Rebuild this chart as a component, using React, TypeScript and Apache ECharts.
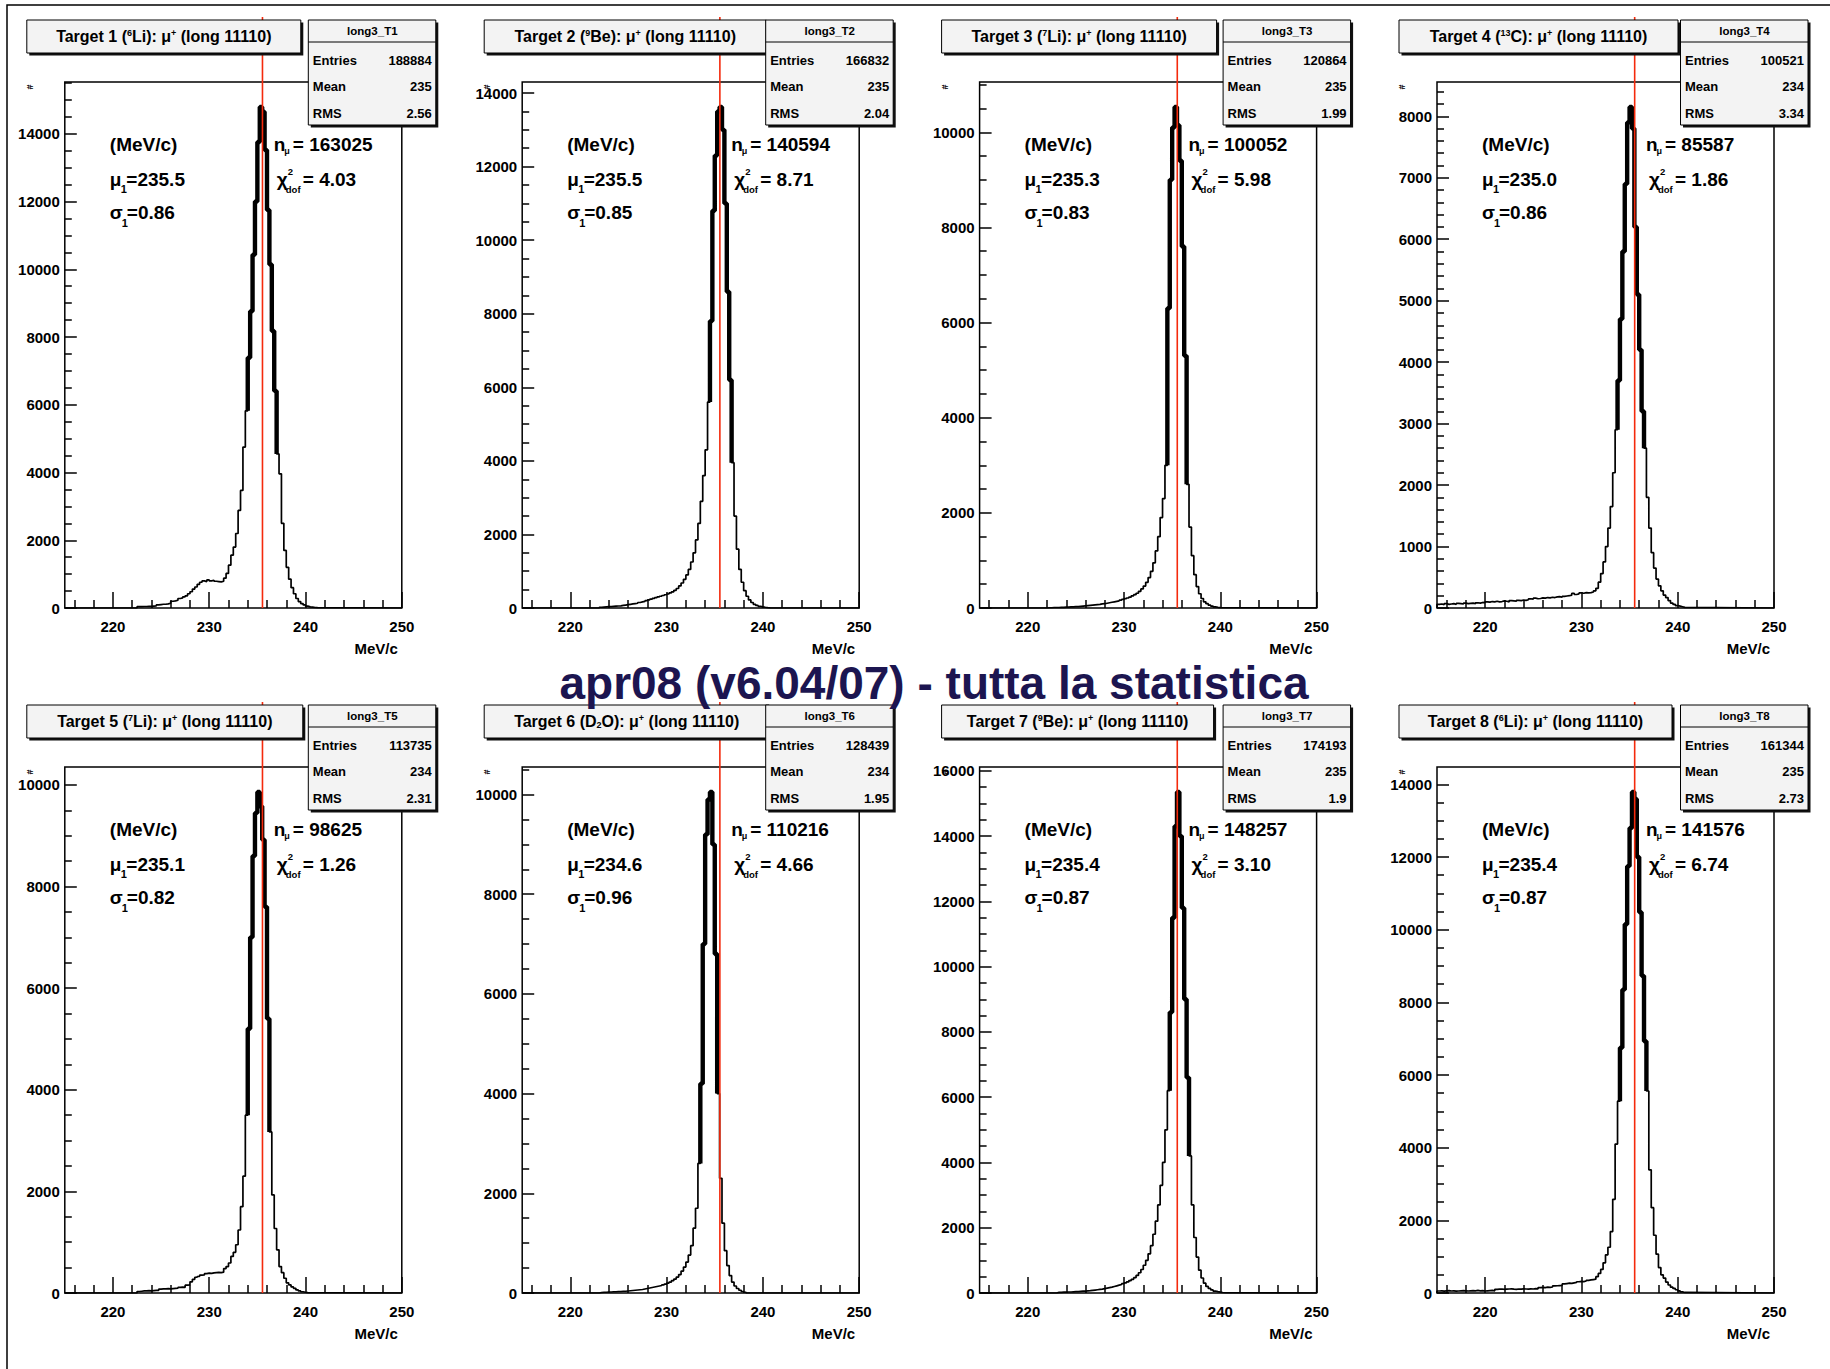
import React, { useEffect, useRef } from "react";
import * as echarts from "echarts";

const FONT = "Liberation Sans, Arial, Helvetica, sans-serif";
const X_MIN = 215;
const X_MAX = 250;
const BIN = 0.25;
const RED_X = 235.53;

const xMajorTicks = [220, 230, 240, 250];
const xMinorTicks = [216, 218, 222, 224, 226, 228, 232, 234, 236, 238, 242, 244, 246, 248];

const titleRich = [
  "{t|Target 1 (}{sup|6}{t|Li): μ}{sup|+}{t| (long 11110)}",
  "{t|Target 2 (}{sup|9}{t|Be): μ}{sup|+}{t| (long 11110)}",
  "{t|Target 3 (}{sup|7}{t|Li): μ}{sup|+}{t| (long 11110)}",
  "{t|Target 4 (}{sup|13}{t|C): μ}{sup|+}{t| (long 11110)}",
  "{t|Target 5 (}{sup|7}{t|Li): μ}{sup|+}{t| (long 11110)}",
  "{t|Target 6 (D}{sub|2}{t|O): μ}{sup|+}{t| (long 11110)}",
  "{t|Target 7 (}{sup|9}{t|Be): μ}{sup|+}{t| (long 11110)}",
  "{t|Target 8 (}{sup|6}{t|Li): μ}{sup|+}{t| (long 11110)}",
];
const histName = ["long3_T1", "long3_T2", "long3_T3", "long3_T4", "long3_T5", "long3_T6", "long3_T7", "long3_T8"];
const entries = ["188884", "166832", "120864", "100521", "113735", "128439", "174193", "161344"];
const means = ["235", "235", "235", "234", "234", "234", "235", "235"];
const rmsVals = ["2.56", "2.04", "1.99", "3.34", "2.31", "1.95", "1.9", "2.73"];
const fitMu = ["235.5", "235.5", "235.3", "235.0", "235.1", "234.6", "235.4", "235.4"];
const fitSigma = ["0.86", "0.85", "0.83", "0.86", "0.82", "0.96", "0.87", "0.87"];
const fitN = ["163025", "140594", "100052", "85587", "98625", "110216", "148257", "141576"];
const fitChi2 = ["4.03", "8.71", "5.98", "1.86", "1.26", "4.66", "3.10", "6.74"];

const yTicks = [
  [0, 2000, 4000, 6000, 8000, 10000, 12000, 14000],
  [0, 2000, 4000, 6000, 8000, 10000, 12000, 14000],
  [0, 2000, 4000, 6000, 8000, 10000],
  [0, 1000, 2000, 3000, 4000, 5000, 6000, 7000, 8000],
  [0, 2000, 4000, 6000, 8000, 10000],
  [0, 2000, 4000, 6000, 8000, 10000],
  [0, 2000, 4000, 6000, 8000, 10000, 12000, 14000, 16000],
  [0, 2000, 4000, 6000, 8000, 10000, 12000, 14000],
];
const yMinorStep = [500, 500, 500, 200, 500, 500, 500, 500];

// first bin lower edge of each histogram (MeV/c), bins of 0.25 MeV/c
const binStart = [222.5, 223.0, 222.0, 215.0, 222.5, 223.0, 223.0, 215.0];

const hist1 = [
  40, 40, 45, 45, 50, 50, 55, 60,
  90, 100, 110, 110, 120, 140,
  200, 210, 230, 280, 300, 330, 360, 420,
  480, 560, 620, 700, 760, 800, 780, 830,
  800, 820, 790, 780, 770, 790, 880, 1020,
  1265, 1560, 1800, 2200, 2880, 3470, 4750, 5820,
  7390, 8760, 10430, 12000, 13760, 14790, 14650, 13520,
  11750, 10140, 8180, 6410, 4550, 3960, 2500, 1700,
  1200, 850, 600, 420, 280, 190, 130, 90,
  55, 35, 25, 15, 10,
];
const hist2 = [
  20, 25, 30, 35, 40, 45, 50, 55,
  60, 70, 80, 90, 100, 110, 120, 130,
  150, 165, 180, 200, 220, 240, 260, 280,
  300, 320, 340, 360, 380, 410, 440, 480,
  530, 600, 680, 780, 900, 1050, 1250, 1500,
  1850, 2300, 2900, 3600, 4300, 5600, 7800, 10800,
  12300, 13500, 13620, 13000, 11000, 8600, 6200, 3950,
  2500, 1600, 1050, 700, 470, 320, 220, 150,
  100, 70, 45, 30, 20, 12, 6,
];
const hist3 = [
  5, 5, 10, 10, 10, 15, 15, 20,
  20, 25, 25, 30, 30, 35, 40, 45,
  50, 55, 60, 65, 70, 75, 85, 90,
  100, 110, 120, 130, 140, 150, 165, 180,
  195, 210, 230, 255, 280, 310, 350, 400,
  460, 540, 640, 770, 950, 1200, 1500, 1900,
  2300, 3000, 6300, 9000, 10100, 10530, 10150, 9400,
  7600, 5300, 2600, 1700, 1100, 700, 450, 300,
  200, 130, 90, 60, 40, 25, 15, 8,
];
const hist4 = [
  60, 65, 55, 70, 60, 65, 70, 60, 75, 70, 65, 80, 70, 75, 80, 70, 85, 80, 90, 85,
  100, 95, 105, 100, 110, 100, 105, 115, 110, 100, 120, 115, 110, 125, 120, 130, 125, 135,
  150, 145, 160, 150, 155, 165, 160, 170, 165, 175, 170, 180, 185, 175, 190, 195,
  200, 210, 240, 220, 230, 245, 240, 250, 245, 250, 260, 280,
  320, 420, 560, 750, 1000, 1300, 1650, 2200, 2900, 3700, 4700, 5800, 6900, 7900, 8150, 7800,
  6200, 5100, 4200, 3200, 2600, 1800, 1300, 900, 650, 470, 360, 280, 210, 170, 120, 80,
  60, 40, 30, 20, 10,
];
const hist5 = [
  30, 35, 40, 40, 45, 40, 45, 50, 50,
  75, 80, 80, 85, 80, 85, 90, 95,
  110, 115, 112,
  155, 160,
  220, 270, 310, 325, 350, 355, 380, 390,
  385, 395, 400, 405, 400, 410, 480, 520,
  590, 720, 800, 950, 1240, 1700, 2300, 3500,
  5200, 7000, 8600, 9450, 9860, 9580, 8920, 7600,
  5400, 3170, 1930, 1270, 850, 520, 400, 290,
  200, 158, 120, 92, 60, 40, 25, 15, 8,
];
const hist6 = [
  10, 15, 15, 20, 20, 25, 25, 30,
  30, 35, 35, 40, 45, 50, 55, 60,
  65, 70, 80, 90, 100, 110, 120, 130,
  140, 150, 165, 180, 200, 220, 250, 280,
  320, 370, 440, 520, 620, 760, 950, 1300,
  1700, 2600, 4200, 7000, 9200, 9900, 10050, 9000,
  6800, 4000, 2300, 1400, 850, 550, 350, 220,
  140, 90, 55, 30, 15,
];
const hist7 = [
  20, 20, 25, 25, 30, 30, 35, 40,
  45, 50, 55, 60, 65, 70, 80, 90,
  100, 110, 120, 135, 150, 165, 180, 200,
  220, 240, 260, 285, 310, 340, 380, 420,
  470, 540, 620, 720, 850, 1000, 1200, 1450,
  1800, 2200, 2700, 3300, 4000, 5000, 6200, 8600,
  11500, 14300, 15350, 14000, 11800, 9000, 6600, 4200,
  2700, 1700, 1100, 700, 460, 300, 200, 140,
  95, 60, 40, 25, 15, 8,
];
const hist8 = [
  55, 60, 50, 60, 65, 55, 60, 50, 55, 60, 65, 60, 55, 60, 65, 60, 70, 60, 65, 55, 60, 65, 70, 60,
  100, 105, 110, 100, 105, 110, 115, 105, 100, 110, 105, 115, 110, 105, 115, 110, 120, 115,
  150, 155, 150, 160, 155, 165,
  195, 200, 205, 210,
  250, 260, 270, 265, 280, 290,
  310, 320, 315, 330,
  350, 360, 370, 380,
  450, 540, 650, 830, 1050, 1260, 1690, 2580, 4100, 5280, 6750, 8350, 10150, 11750, 12800, 13790,
  13600, 12000, 10480, 8730, 6930, 5560, 3390, 2350, 1590, 1070, 700, 500, 410, 300, 220, 160,
  126, 90, 60, 30, 15,
];
const hists = [hist1, hist2, hist3, hist4, hist5, hist6, hist7, hist8];

// range of bins drawn with the heavier stroke (fit region)
const coreLo = [234.0, 234.5, 234.5, 233.75, 234.0, 233.5, 234.75, 234.0];
const coreHi = [236.75, 236.5, 236.25, 236.25, 236.0, 235.0, 236.5, 236.5];

const MAIN_TITLE = "apr08 (v6.04/07) - tutta la statistica";

// layout (pixels)
const COL_X = [64.8, 522.2, 979.6, 1437.0];
const ROW_Y = [82, 767];
const GRID_W = 337;
const GRID_H = 526;
const titleBoxW = [274, 282, 275, 279, 276, 285, 272, 273];

function histPoints(start: number, vals: number[]) {
  const pts: number[][] = [[X_MIN, 0]];
  vals.forEach((v, k) => pts.push([start + k * BIN, v]));
  pts.push([start + vals.length * BIN, 0]);
  pts.push([X_MAX, 0]);
  return pts;
}

function corePoints(start: number, vals: number[], lo: number, hi: number) {
  const i0 = Math.round((lo - start) / BIN);
  const i1 = Math.round((hi - start) / BIN);
  const pts: number[][] = [[start + i0 * BIN, vals[i0 - 1]]];
  for (let k = i0; k <= i1; k++) pts.push([start + k * BIN, vals[k]]);
  const xe = start + (i1 + 1) * BIN;
  pts.push([xe, vals[i1]]);
  pts.push([xe, vals[i1 + 1]]);
  return pts;
}

function txt(x: number, y: number, text: string, size: number, align = "left", extra: any = {}) {
  return {
    type: "text",
    x,
    y,
    z: 101,
    silent: true,
    style: {
      text,
      fontFamily: FONT,
      fontWeight: "bold",
      fontSize: size,
      fill: "#000",
      align,
      verticalAlign: "middle",
      ...extra,
    },
  };
}

function boxWithShadow(x: number, y: number, w: number, h: number) {
  return [
    { type: "rect", z: 99, silent: true, shape: { x: x + 2.5, y: y + 2.5, width: w, height: h }, style: { fill: "#111" } },
    { type: "rect", z: 99, silent: true, shape: { x, y, width: w, height: h }, style: { fill: "#f3f3f3", stroke: "#000", lineWidth: 1 } },
  ];
}

function buildOption() {
  const grid: any[] = [];
  const xAxis: any[] = [];
  const yAxis: any[] = [];
  const series: any[] = [];
  const elements: any[] = [];
  const labelStyle = { fontFamily: FONT, fontWeight: "bold", fontSize: 15, color: "#000" };
  const tickLine = { color: "#000", width: 1.5 };
  const plain = (v: number) => String(v);

  hists.forEach((vals, i) => {
    const ox = COL_X[i % 4];
    const oy = ROW_Y[Math.floor(i / 4)];
    const yMax = Math.max(...vals) * 1.05;

    grid.push({
      left: ox, top: oy, width: GRID_W, height: GRID_H,
      show: true, borderColor: "#000", borderWidth: 1.5, backgroundColor: "#fff",
      containLabel: false, outerBoundsMode: "none",
    });

    xAxis.push({
      gridIndex: i, type: "value", position: "bottom", min: X_MIN, max: X_MAX,
      axisLine: { show: false }, splitLine: { show: false },
      axisTick: { show: true, inside: true, length: 16, customValues: xMajorTicks, lineStyle: tickLine },
      axisLabel: { ...labelStyle, margin: 11, customValues: xMajorTicks, formatter: plain },
    });
    xAxis.push({
      gridIndex: i, type: "value", position: "bottom", min: X_MIN, max: X_MAX,
      axisLine: { show: false }, splitLine: { show: false },
      axisTick: { show: true, inside: true, length: 8, customValues: xMinorTicks, lineStyle: tickLine },
      axisLabel: { show: false },
    });

    const minor: number[] = [];
    for (let v = yMinorStep[i]; v < yMax; v += yMinorStep[i]) {
      if (!yTicks[i].includes(v)) minor.push(v);
    }
    yAxis.push({
      gridIndex: i, type: "value", position: "left", min: 0, max: yMax,
      axisLine: { show: false }, splitLine: { show: false },
      axisTick: { show: true, inside: true, length: 12, customValues: yTicks[i], lineStyle: tickLine },
      axisLabel: { ...labelStyle, margin: 5, customValues: yTicks[i], formatter: plain },
    });
    yAxis.push({
      gridIndex: i, type: "value", position: "left", min: 0, max: yMax,
      axisLine: { show: false }, splitLine: { show: false },
      axisTick: { show: true, inside: true, length: 7, customValues: minor, lineStyle: tickLine },
      axisLabel: { show: false },
    });

    series.push({
      type: "line", xAxisIndex: 2 * i, yAxisIndex: 2 * i, step: "end", symbol: "none",
      showSymbol: false, silent: true, z: 3,
      lineStyle: { color: "#000", width: 1.7 },
      data: histPoints(binStart[i], vals),
    });
    series.push({
      type: "line", xAxisIndex: 2 * i, yAxisIndex: 2 * i, step: "end", symbol: "none",
      showSymbol: false, silent: true, z: 3,
      lineStyle: { color: "#000", width: 4.4 },
      data: corePoints(binStart[i], vals, coreLo[i], coreHi[i]),
    });
    series.push({
      type: "custom", xAxisIndex: 2 * i, yAxisIndex: 2 * i, silent: true, z: 5, clip: false,
      data: [[RED_X, 0, yMax * (1 + 65 / GRID_H)]],
      renderItem: (params: any, api: any) => {
        const p0 = api.coord([api.value(0), api.value(1)]);
        const p1 = api.coord([api.value(0), api.value(2)]);
        return {
          type: "line",
          shape: { x1: p0[0], y1: p0[1], x2: p1[0], y2: p1[1] },
          style: { stroke: "#f42a0c", lineWidth: 1.6 },
        };
      },
    });

    // title box
    const tbx = ox - 38;
    const tby = oy - 62;
    elements.push(...boxWithShadow(tbx, tby, titleBoxW[i], 33));
    elements.push({
      type: "text", x: tbx + titleBoxW[i] / 2, y: tby + 16.5, z: 101, silent: true,
      style: {
        text: titleRich[i], align: "center", verticalAlign: "middle",
        fontFamily: FONT, fontWeight: "bold", fontSize: 16, fill: "#000",
        rich: {
          t: { fontFamily: FONT, fontWeight: "bold", fontSize: 16, fill: "#000", color: "#000" },
          sup: { fontFamily: FONT, fontWeight: "bold", fontSize: 9, fill: "#000", color: "#000", verticalAlign: "top" },
          sub: { fontFamily: FONT, fontWeight: "bold", fontSize: 9, fill: "#000", color: "#000", verticalAlign: "bottom" },
        },
      },
    });

    // stats box
    const sbx = ox + 243.5;
    const sby = oy - 62;
    elements.push(...boxWithShadow(sbx, sby, 127.5, 105));
    elements.push({
      type: "line", z: 100, silent: true,
      shape: { x1: sbx, y1: sby + 22, x2: sbx + 127.5, y2: sby + 22 },
      style: { stroke: "#000", lineWidth: 1 },
    });
    elements.push(txt(sbx + 64, sby + 11, histName[i], 11.5, "center"));
    elements.push(txt(sbx + 4.5, oy - 22, "Entries", 13));
    elements.push(txt(sbx + 123.5, oy - 22, entries[i], 13, "right"));
    elements.push(txt(sbx + 4.5, oy + 4, "Mean", 13));
    elements.push(txt(sbx + 123.5, oy + 4, means[i], 13, "right"));
    elements.push(txt(sbx + 4.5, oy + 31, "RMS", 13));
    elements.push(txt(sbx + 123.5, oy + 31, rmsVals[i], 13, "right"));

    // fit results
    const r1 = oy + 62;
    const r2 = oy + 97;
    const r3 = oy + 130.5;
    elements.push(txt(ox + 45, r1, "(MeV/c)", 19));
    elements.push(txt(ox + 45, r2, "μ", 19));
    elements.push(txt(ox + 56, r2 + 10, "1", 11));
    elements.push(txt(ox + 61.5, r2, "=" + fitMu[i], 19));
    elements.push(txt(ox + 45, r3, "σ", 19));
    elements.push(txt(ox + 57, r3 + 10, "1", 11));
    elements.push(txt(ox + 62, r3, "=" + fitSigma[i], 19));
    elements.push(txt(ox + 209, r1, "n", 19));
    elements.push(txt(ox + 219.5, r1 + 7, "μ", 9));
    elements.push(txt(ox + 228, r1, "= " + fitN[i], 19));
    elements.push(txt(ox + 212, r2, "χ", 19));
    elements.push(txt(ox + 223, r2 - 8, "2", 9.5));
    elements.push(txt(ox + 221, r2 + 10, "dof", 9.5));
    elements.push(txt(ox + 238, r2, "= " + fitChi2[i], 19));

    // axis titles
    elements.push(txt(ox + 333, oy + GRID_H + 40, "MeV/c", 15, "right"));
    elements.push({ ...txt(ox - 35, oy + 5, "#", 9, "center"), rotation: Math.PI / 2 });
  });

  elements.push({
    type: "text", x: 934, y: 683, z: 100, silent: true,
    style: {
      text: MAIN_TITLE, fontFamily: FONT, fontWeight: "bold",
      fontSize: 46, fill: "#1c1550", align: "center", verticalAlign: "middle",
    },
  });
  elements.push({
    type: "rect", z: 100, silent: true,
    shape: { x: 7, y: 5, width: 1900, height: 1500 },
    style: { fill: "none", stroke: "#000", lineWidth: 1.5 },
  });

  return {
    animation: false,
    backgroundColor: "#fff",
    grid,
    xAxis,
    yAxis,
    series,
    graphic: { elements },
  };
}

export default function App() {
  const ref = useRef<HTMLDivElement>(null);
  useEffect(() => {
    document.body.style.margin = "0";
    const chart = echarts.init(ref.current as HTMLDivElement, null, { renderer: "svg" });
    chart.setOption(buildOption() as any);
    return () => chart.dispose();
  }, []);
  return <div ref={ref} style={{ width: 1830, height: 1369, background: "#fff" }} />;
}
